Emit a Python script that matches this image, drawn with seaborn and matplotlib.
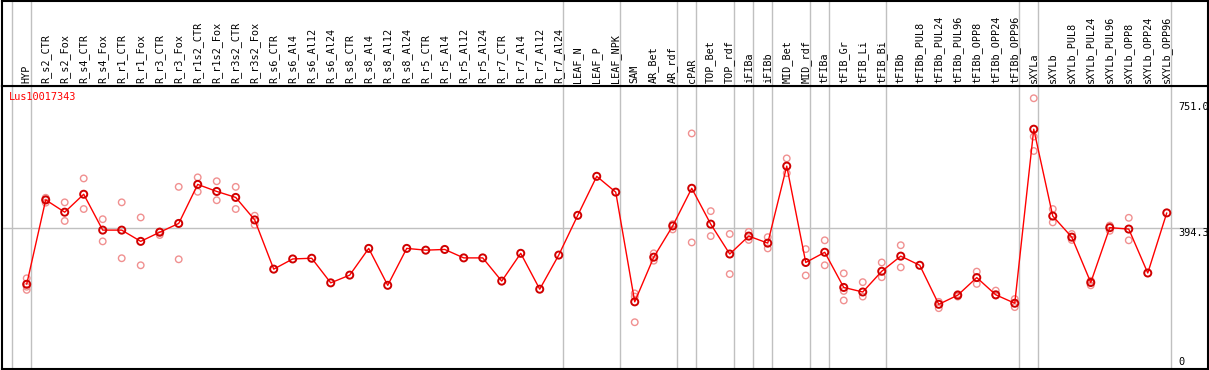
import matplotlib
matplotlib.use("Agg")
import matplotlib.pyplot as plt
import matplotlib.transforms as mtransforms
import seaborn as sns
import pandas as pd
import numpy as np

gene = "Lus10017343"

categories = [
    "HYP", "R_s2_CTR", "R_s2_Fox", "R_s4_CTR", "R_s4_Fox", "R_r1_CTR", "R_r1_Fox",
    "R_r3_CTR", "R_r3_Fox", "R_r1s2_CTR", "R_r1s2_Fox", "R_r3s2_CTR", "R_r3s2_Fox",
    "R_s6_CTR", "R_s6_Al4", "R_s6_Al12", "R_s6_Al24", "R_s8_CTR", "R_s8_Al4",
    "R_s8_Al12", "R_s8_Al24", "R_r5_CTR", "R_r5_Al4", "R_r5_Al12", "R_r5_Al24",
    "R_r7_CTR", "R_r7_Al4", "R_r7_Al12", "R_r7_Al24", "LEAF_N", "LEAF_P", "LEAF_NPK",
    "SAM", "AR_Bet", "AR_rdf", "cPAR", "TOP_Bet", "TOP_rdf", "iFIBa", "iFIBb",
    "MID_Bet", "MID_rdf", "tFIBa", "tFIB_Gr", "tFIB_Li", "tFIB_Bi", "tFIBb",
    "tFIBb_PUL8", "tFIBb_PUL24", "tFIBb_PUL96", "tFIBb_OPP8", "tFIBb_OPP24",
    "tFIBb_OPP96", "sXYLa", "sXYLb", "sXYLb_PUL8", "sXYLb_PUL24", "sXYLb_PUL96",
    "sXYLb_OPP8", "sXYLb_OPP24", "sXYLb_OPP96",
]

means = [
    235, 475, 440, 491, 389, 389, 357, 383, 408, 519, 499, 482, 418,
    278, 307, 309, 239, 261, 337, 232, 337, 332, 334, 310, 310,
    244, 323, 221, 318, 431, 542, 497,
    185, 312, 401, 508, 406, 321, 372, 352, 571, 297, 326, 226, 213, 272, 315,
    289, 178, 204, 254, 205, 181,
    676, 429, 369, 240, 396, 392, 267, 438,
]

rep_labels = [
    "HYP", "HYP", "HYP",
    "R_s2_CTR", "R_s2_CTR", "R_s2_CTR",
    "R_s2_Fox", "R_s2_Fox",
    "R_s4_CTR", "R_s4_CTR",
    "R_s4_Fox", "R_s4_Fox",
    "R_r1_CTR", "R_r1_CTR",
    "R_r1_Fox", "R_r1_Fox",
    "R_r3_CTR", "R_r3_CTR",
    "R_r3_Fox", "R_r3_Fox",
    "R_r1s2_CTR", "R_r1s2_CTR",
    "R_r1s2_Fox", "R_r1s2_Fox",
    "R_r3s2_CTR", "R_r3s2_CTR",
    "R_r3s2_Fox", "R_r3s2_Fox",
    "SAM", "SAM", "SAM",
    "AR_Bet", "AR_Bet",
    "AR_rdf", "AR_rdf",
    "cPAR", "cPAR",
    "TOP_Bet", "TOP_Bet",
    "TOP_rdf", "TOP_rdf",
    "iFIBa", "iFIBa",
    "iFIBb", "iFIBb",
    "MID_Bet", "MID_Bet",
    "MID_rdf", "MID_rdf",
    "tFIBa", "tFIBa",
    "tFIB_Gr", "tFIB_Gr", "tFIB_Gr",
    "tFIB_Li", "tFIB_Li",
    "tFIB_Bi", "tFIB_Bi",
    "tFIBb", "tFIBb",
    "tFIBb_PUL24", "tFIBb_PUL24",
    "tFIBb_PUL96", "tFIBb_PUL96",
    "tFIBb_OPP8", "tFIBb_OPP8",
    "tFIBb_OPP24", "tFIBb_OPP24",
    "tFIBb_OPP96", "tFIBb_OPP96",
    "sXYLa", "sXYLa", "sXYLa",
    "sXYLb", "sXYLb",
    "sXYLb_PUL8", "sXYLb_PUL8",
    "sXYLb_PUL24", "sXYLb_PUL24",
    "sXYLb_PUL96", "sXYLb_PUL96",
    "sXYLb_OPP8", "sXYLb_OPP8",
]

rep_values = [
    252, 228, 219,
    481, 475, 467,
    468, 415,
    536, 449,
    420, 357,
    468, 309,
    425, 289,
    385, 375,
    512, 306,
    539, 498,
    528, 474,
    512, 449,
    430, 404,
    209, 200, 127,
    323, 302,
    406, 391,
    664, 354,
    443, 372,
    378, 264,
    384, 361,
    369, 337,
    593, 551,
    335, 260,
    360, 289,
    266, 216, 189,
    241, 200,
    297, 255,
    346, 283,
    185, 167,
    207, 200,
    271, 236,
    217, 203,
    193, 170,
    764, 655, 614,
    449, 411,
    378, 361,
    245, 232,
    402, 387,
    424, 360,
]

# groups end after these samples (vertical separators)
group_ends = ["HYP", "R_r7_Al24", "LEAF_NPK", "AR_rdf", "cPAR", "TOP_rdf", "iFIBa",
              "iFIBb", "MID_rdf", "tFIBa", "tFIB_Bi", "tFIBb_OPP96", "sXYLa", "sXYLb_OPP96"]

axis_labels = [751.0, 394.3, 0]

sns.set_theme(style="white")
plt.rcParams["font.family"] = ["DejaVu Sans Mono", "DejaVu Sans"]

W, H = 1209, 370
fig = plt.figure(figsize=(W / 100, H / 100), dpi=100)

left_px, right_px = 2, 1208
head_bot = 85.5
bottom_px = 369

ax = fig.add_axes([left_px / W, (H - bottom_px) / H, (right_px - left_px) / W,
                   (bottom_px - head_bot) / H])
axh = fig.add_axes([left_px / W, (H - head_bot) / H, (right_px - left_px) / W,
                    (head_bot - 0.5) / H], sharex=ax)

pos = {c: i for i, c in enumerate(categories)}
df_mean = pd.DataFrame({"x": np.arange(len(categories)), "v": means})
df_rep = pd.DataFrame({"x": [pos[c] for c in rep_labels], "v": rep_values})

xmin, xmax = -1.3, 62.17
ax.set_xlim(xmin, xmax)
ax.set_ylim(-6, 800.3)

# separators
offs = 4 / 19
sep_x = [-1 + offs] + [pos[c] + offs for c in group_ends]
for xs in sep_x:
    ax.axvline(xs, color="#c0c0c0", lw=1, zorder=0)
    axh.axvline(xs, color="#c0c0c0", lw=1, zorder=0)
ax.axhline(394.3, color="#c0c0c0", lw=1, zorder=0)

sns.scatterplot(data=df_rep, x="x", y="v", ax=ax, marker="o", s=22,
                color="#f09090", facecolor="none", edgecolor="#f09090",
                linewidth=1.0, zorder=2, legend=False)
sns.lineplot(data=df_mean, x="x", y="v", ax=ax, color="#ff0000", lw=1.0,
             zorder=3, legend=False)
sns.scatterplot(data=df_mean, x="x", y="v", ax=ax, marker="o", s=26,
                color="#e00000", facecolor="none", edgecolor="#d00000",
                linewidth=1.4, zorder=4, legend=False)

ax.set_xlabel("")
ax.set_ylabel("")
ax.set_xticks([])
ax.set_yticks([])
for a in (ax, axh):
    for s in a.spines.values():
        s.set_color("black")
        s.set_linewidth(1.5)
axh.set_yticks([])
axh.set_ylim(0, 1)
axh.tick_params(axis="x", bottom=False, labelbottom=False)
plt.setp(ax.get_xticklabels(), visible=False)

# header labels
for c, i in pos.items():
    axh.text(i, 0.03, c, rotation=90, ha="center", va="bottom",
             fontsize=7.3, color="black",
             transform=mtransforms.blended_transform_factory(axh.transData, axh.transAxes))

# title
fig.text(9 / W, 1 - 97.3 / H, gene, color="#ff0000", fontsize=7.4,
         ha="left", va="center")

# right value labels
trans = mtransforms.blended_transform_factory(ax.transAxes, ax.transData)
offsets_pt = [-3.2, -3.2, 3.7]
for v, o in zip(axis_labels, offsets_pt):
    txt = f"{v:.1f}" if v != 0 else "0"
    ax.annotate(txt, xy=((1178 - left_px) / (right_px - left_px), v), xycoords=trans,
                xytext=(0, o), textcoords="offset points", ha="left", va="center",
                fontsize=7.4, color="black", annotation_clip=False)

fig.savefig("out.png", dpi=100)
